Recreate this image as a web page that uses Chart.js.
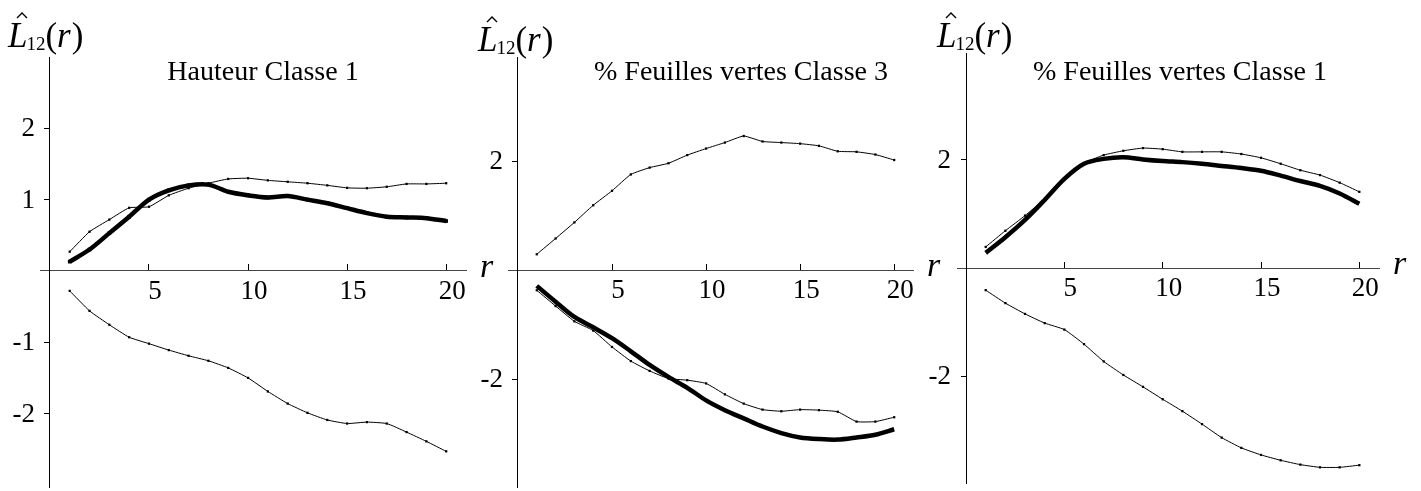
<!DOCTYPE html>
<html>
<head>
<meta charset="utf-8">
<script src="https://cdn.jsdelivr.net/npm/chart.js@4/dist/chart.umd.min.js"></script>
<style>
  body { margin: 0; background: #fff; }
  #wrap { position: relative; width: 1421px; height: 491px; }
  #wrap canvas { position: absolute; left: 0; top: 0; }
</style>
</head>
<body>
<div id="wrap">
  <canvas id="c1" width="1421" height="491"></canvas>
  <canvas id="c2" width="1421" height="491"></canvas>
  <canvas id="c3" width="1421" height="491"></canvas>
</div>
<script>
// distances r
var r = [1, 2, 3, 4, 5, 6, 7, 8, 9, 10, 11, 12, 13, 14, 15, 16, 17, 18, 19, 20];

// Hauteur Classe 1 : enveloppe sup, L12 observe, enveloppe inf
var hautSup = [0.27, 0.55, 0.72, 0.885, 0.90, 1.06, 1.16, 1.23, 1.29, 1.30, 1.27, 1.25, 1.23, 1.20, 1.165, 1.16, 1.18, 1.22, 1.22, 1.23];
var hautObs = [0.13, 0.30, 0.53, 0.76, 1.00, 1.13, 1.20, 1.21, 1.11, 1.06, 1.03, 1.05, 1.00, 0.95, 0.88, 0.81, 0.76, 0.75, 0.74, 0.70];
var hautInf = [-0.28, -0.56, -0.755, -0.93, -1.02, -1.11, -1.19, -1.26, -1.36, -1.50, -1.69, -1.86, -1.99, -2.09, -2.14, -2.12, -2.14, -2.26, -2.39, -2.53];

// % Feuilles vertes Classe 3
var fv3Sup = [0.29, 0.58, 0.875, 1.19, 1.455, 1.755, 1.88, 1.96, 2.11, 2.23, 2.34, 2.46, 2.36, 2.34, 2.32, 2.28, 2.18, 2.17, 2.12, 2.02];
var fv3Obs = [-0.29, -0.58, -0.86, -1.05, -1.25, -1.49, -1.74, -1.96, -2.16, -2.39, -2.57, -2.72, -2.87, -2.99, -3.07, -3.10, -3.11, -3.07, -3.02, -2.92];
var fv3Inf = [-0.37, -0.66, -0.94, -1.11, -1.41, -1.67, -1.85, -1.99, -2.02, -2.08, -2.28, -2.45, -2.56, -2.59, -2.56, -2.57, -2.60, -2.78, -2.78, -2.70];

// % Feuilles vertes Classe 1
var fv1Sup = [0.39, 0.69, 0.97, 1.28, 1.66, 1.94, 2.09, 2.17, 2.22, 2.20, 2.15, 2.15, 2.15, 2.11, 2.04, 1.93, 1.81, 1.72, 1.58, 1.41];
var fv1Obs = [0.28, 0.57, 0.89, 1.26, 1.65, 1.93, 2.02, 2.05, 2.01, 1.98, 1.96, 1.93, 1.89, 1.85, 1.80, 1.71, 1.61, 1.52, 1.38, 1.19];
var fv1Inf = [-0.41, -0.65, -0.85, -1.02, -1.14, -1.41, -1.73, -1.98, -2.20, -2.43, -2.65, -2.89, -3.14, -3.33, -3.46, -3.56, -3.64, -3.69, -3.69, -3.65];

// graduations
var xTicks = [5, 10, 15, 20];
var yTicksHaut = [-2, -1, 1, 2];
var yTicksFv = [-2, 2];

var SERIF = '"Liberation Serif", "Times New Roman", serif';

function pts(ys) {
    return r.map(function (x, i) { return {x: x, y: ys[i]}; });
}

// courbe fine avec petits points carres
function thin(ys) {
    return {
        data: pts(ys),
        borderColor: '#000',
        backgroundColor: '#000',
        borderWidth: 1,
        pointStyle: 'rect',
        pointRadius: 1.6,
        pointBorderWidth: 0,
        tension: 0.15
    };
}

// courbe epaisse (L12 observe)
function thick(ys, marks) {
    return {
        data: pts(ys),
        borderColor: '#000',
        backgroundColor: '#000',
        borderWidth: 4.5,
        pointStyle: 'rect',
        pointRadius: marks ? 2.6 : 0,
        pointBorderWidth: 0,
        tension: 0.3
    };
}

// titre, etiquettes de l'axe y, L^12(r) et r
var annot = {
    id: 'annot',
    afterDraw: function (chart) {
        var o = chart.options.plugins.annot;
        var ctx = chart.ctx;
        var area = chart.chartArea;
        var sx = chart.scales.x, sy = chart.scales.y;
        var x0 = sx.getPixelForValue(0);
        var y0 = sy.getPixelForValue(0);
        ctx.save();
        ctx.fillStyle = '#000';
        ctx.strokeStyle = '#000';

        // graduations de l'axe vertical
        ctx.font = '27px ' + SERIF;
        ctx.textAlign = 'right';
        ctx.textBaseline = 'middle';
        sy.ticks.forEach(function (t) {
            ctx.fillText(String(t.value), x0 - 15, sy.getPixelForValue(t.value) + 1);
        });

        ctx.textBaseline = 'alphabetic';

        // titre
        ctx.font = '28px ' + SERIF;
        ctx.textAlign = 'center';
        ctx.fillText(o.title, o.titleX, o.titleY);

        // r en bout d'axe
        ctx.textAlign = 'left';
        ctx.font = 'italic 34px ' + SERIF;
        ctx.fillText('r', area.right + 14, y0 + 6);

        // L chapeau 12 (r)
        var x = o.labX, b = o.labY;
        ctx.font = 'italic 35px ' + SERIF;
        ctx.fillText('L', x, b);
        var wL = ctx.measureText('L').width;
        ctx.lineWidth = 1.4;
        ctx.beginPath();
        ctx.moveTo(x + 9, b - 29);
        ctx.lineTo(x + 14, b - 34);
        ctx.lineTo(x + 19, b - 29);
        ctx.stroke();
        x += wL - 1;
        ctx.font = '19px ' + SERIF;
        ctx.fillText('12', x, b + 3);
        x += ctx.measureText('12').width;
        ctx.font = '35px ' + SERIF;
        ctx.fillText('(', x, b);
        x += ctx.measureText('(').width;
        ctx.font = 'italic 35px ' + SERIF;
        ctx.fillText('r', x, b);
        x += ctx.measureText('r').width + 1;
        ctx.font = '35px ' + SERIF;
        ctx.fillText(')', x, b);
        ctx.restore();
    }
};

function makePanel(id, sets, yTicks, yMin, yMax, xMin, pad, annotOpts) {
    new Chart(document.getElementById(id).getContext('2d'), {
        type: 'line',
        data: {datasets: sets},
        options: {
            responsive: false,
            animation: false,
            events: [],
            layout: {padding: pad},
            plugins: {
                legend: {display: false},
                tooltip: {enabled: false},
                annot: annotOpts
            },
            scales: {
                x: {
                    type: 'linear',
                    min: xMin,
                    max: 21,
                    position: {y: 0},
                    afterBuildTicks: function (axis) {
                        axis.ticks = xTicks.map(function (v) { return {value: v}; });
                    },
                    ticks: {
                        autoSkip: false,
                        maxRotation: 0,
                        padding: 12,
                        labelOffset: 6,
                        color: '#000',
                        font: {family: SERIF, size: 27},
                        callback: function (v) { return String(v); }
                    },
                    grid: {drawOnChartArea: false, drawTicks: true, tickLength: -7, color: '#000'},
                    border: {color: '#444', width: 1}
                },
                y: {
                    type: 'linear',
                    min: yMin,
                    max: yMax,
                    position: {x: 0},
                    afterBuildTicks: function (axis) {
                        axis.ticks = yTicks.map(function (v) { return {value: v}; });
                    },
                    ticks: {display: false},
                    grid: {drawOnChartArea: false, drawTicks: true, tickLength: 5, color: '#000'},
                    border: {color: '#000', width: 1}
                }
            }
        },
        plugins: [annot]
    });
}

makePanel('c1',
    [thin(hautSup), thick(hautObs, true), thin(hautInf)],
    yTicksHaut, -3.03, 3.0, -0.5,
    {left: 40, right: 955, top: 57, bottom: 3},
    {title: 'Hauteur Classe 1', titleX: 263, titleY: 80, labX: 8, labY: 47});

makePanel('c2',
    [thin(fv3Sup), thick(fv3Obs, false), thin(fv3Inf)],
    yTicksFv, -3.98, 3.91, -0.53,
    {left: 508, right: 508, top: 57, bottom: 4},
    {title: '% Feuilles vertes Classe 3', titleX: 741, titleY: 80, labX: 478, labY: 51});

makePanel('c3',
    [thin(fv1Sup), thick(fv1Obs, false), thin(fv1Inf)],
    yTicksFv, -3.98, 3.98, -0.46,
    {left: 957, right: 42, top: 53, bottom: 8},
    {title: '% Feuilles vertes Classe 1', titleX: 1180, titleY: 80, labX: 937, labY: 47});
</script>
</body>
</html>
